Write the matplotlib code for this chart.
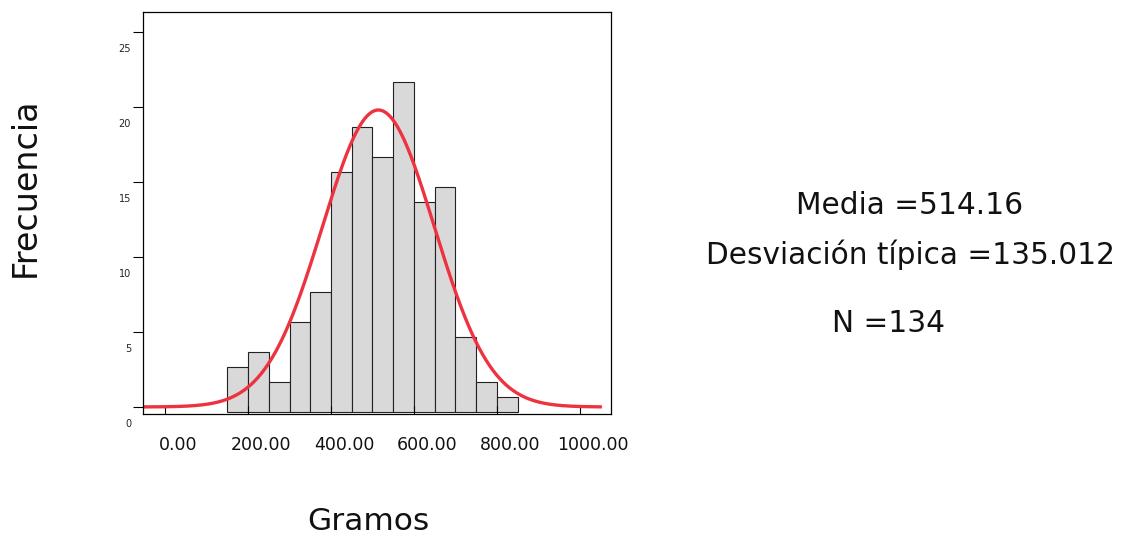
import numpy as np
import matplotlib.pyplot as plt
from matplotlib.transforms import blended_transform_factory

plt.rcParams['font.family'] = ['DejaVu Sans']

# Histogram data (Gramos)
bin_edges = [150, 200, 250, 300, 350, 400, 450, 500, 550, 600, 650, 700, 750, 800, 850]
counts = [3, 4, 2, 6, 8, 16, 19, 17, 22, 14, 15, 5, 2, 1]
media = 514.16
desv = 135.012
n_obs = 134
x_ticks = [0, 200, 400, 600, 800, 1000]
x_labels = ['0.00', '200.00', '400.00', '600.00', '800.00', '1000.00']
y_ticks = [0, 5, 10, 15, 20, 25]

fig = plt.figure(figsize=(11.22, 5.39), dpi=100)
ax = fig.add_axes([0.1275, 0.2319, 0.4171, 0.7458])

# bars sit slightly below the tick baseline, as in the original output
base = -0.31
widths = np.diff(bin_edges)
ax.bar(bin_edges[:-1], counts, width=widths, bottom=base, align='edge',
       color='#d9d9d9', edgecolor='#222222', linewidth=0.8)

# normal curve
xs = np.linspace(-53, 1053, 400)
bw = bin_edges[1] - bin_edges[0]
ys = n_obs * bw / (desv * np.sqrt(2 * np.pi)) * np.exp(-0.5 * ((xs - media) / desv) ** 2)
ax.plot(xs, ys, color='#ee3340', linewidth=2.4, solid_capstyle='butt')

ax.set_xlim(-53, 1075)
ax.set_ylim(-0.47, 26.33)

for s in ax.spines.values():
    s.set_linewidth(0.9)

# y ticks: marks outside, labels drawn a bit lower
ax.set_yticks(y_ticks)
ax.set_yticklabels([])
ax.tick_params(axis='y', direction='out', length=7, width=0.8)
ty = blended_transform_factory(fig.transFigure, ax.transData)
for v in y_ticks:
    ax.text(131 / 1122, v - 1.13, str(v), transform=ty, ha='right', va='center',
            fontsize=7, color='#222222')

# x ticks: marks inside, labels shifted to the right
ax.set_xticks(x_ticks)
ax.set_xticklabels([])
ax.tick_params(axis='x', direction='in', length=6, width=0.8)
tx = blended_transform_factory(ax.transData, fig.transFigure)
for v, lab in zip(x_ticks, x_labels):
    ax.text(v + 32, 1 - 445 / 539, lab, transform=tx, ha='center', va='center',
            fontsize=12.5, color='#111111')

fig.text(25 / 1122, 1 - 187 / 539, 'Frecuencia', rotation=90, ha='center', va='center',
         fontsize=24, color='#111111')
fig.text(368 / 1122, 1 - 522 / 539, 'Gramos', ha='center', va='center',
         fontsize=22.5, color='#111111')

fig.text(910 / 1122, 1 - 205 / 539, f'Media ={media:.2f}', ha='center', va='center',
         fontsize=21.3, color='#111111')
fig.text(911 / 1122, 1 - 255 / 539, f'Desviación típica ={desv:.3f}', ha='center',
         va='center', fontsize=21.3, color='#111111')
fig.text(888 / 1122, 1 - 323 / 539, f'N ={n_obs}', ha='center', va='center',
         fontsize=21.3, color='#111111')

fig.savefig('out.png', dpi=100)
